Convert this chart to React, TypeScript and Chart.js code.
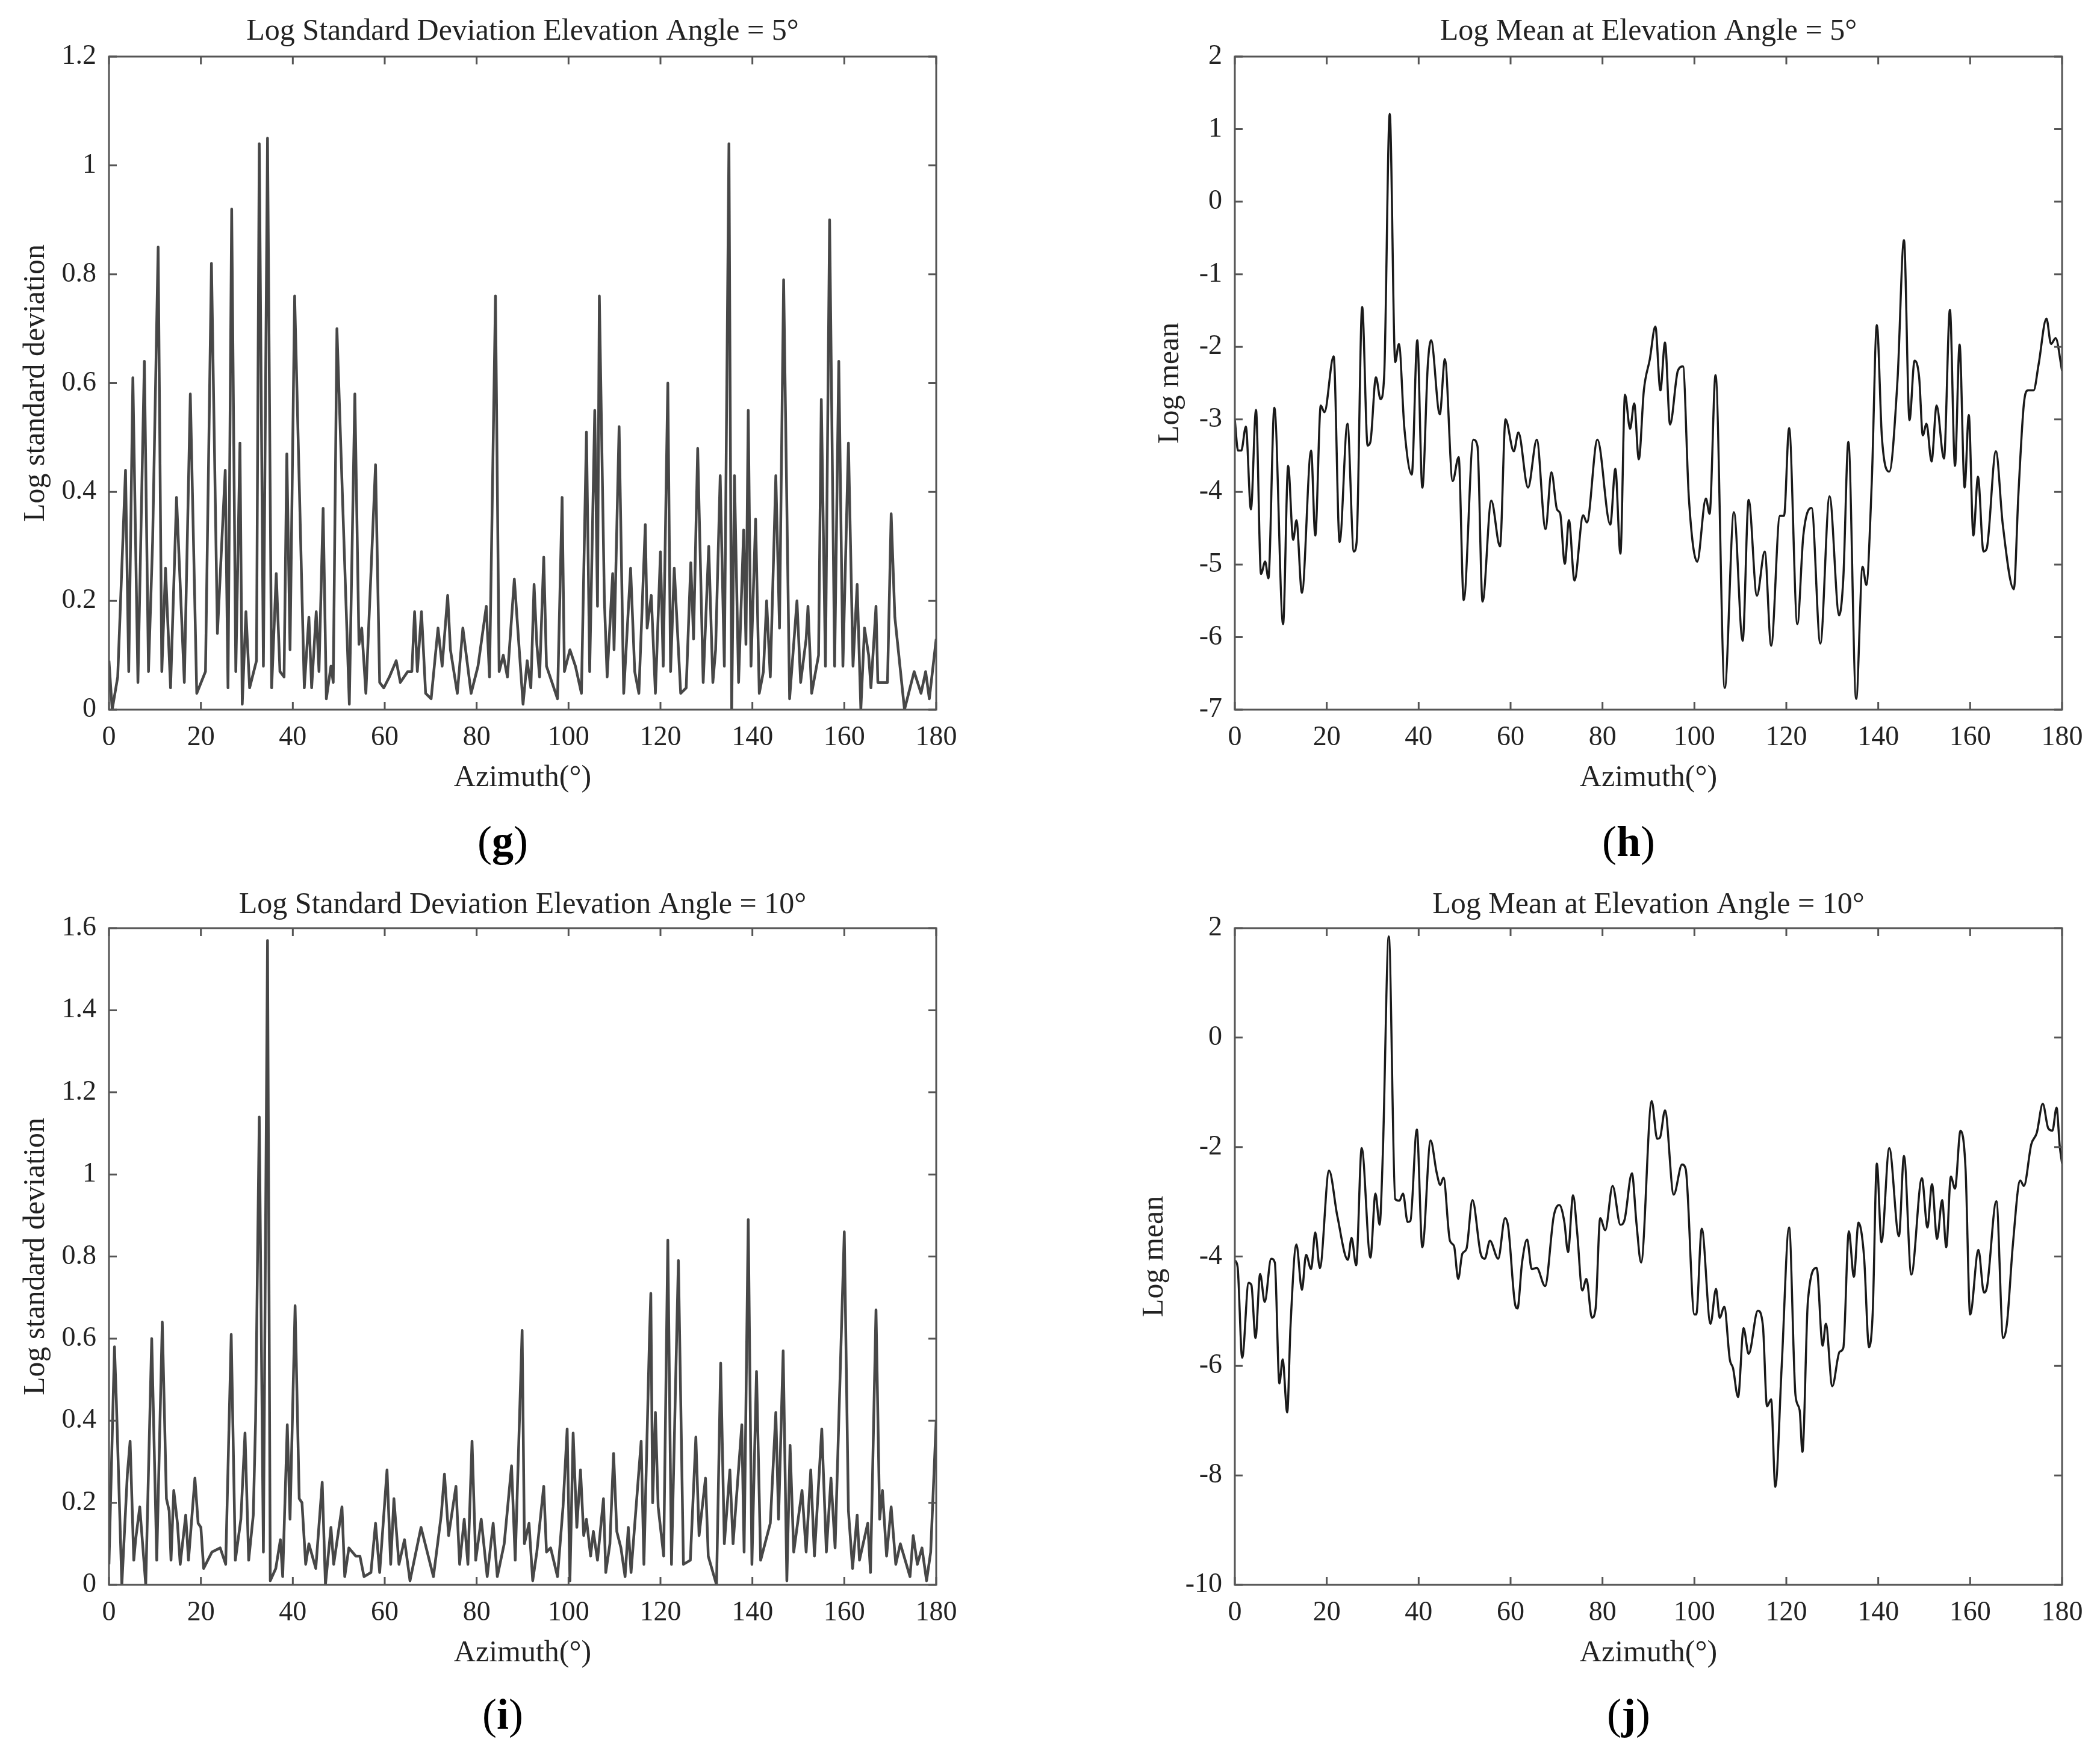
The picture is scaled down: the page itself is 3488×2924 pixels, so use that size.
import React, { useEffect, useRef } from 'react';
import { Chart, registerables } from 'chart.js';

Chart.register(...registerables);

// ---------------- DATA (azimuth °, value) ----------------
const xTicks = { min: 0, max: 180, step: 20 };

// (g) Log standard deviation, elevation 5°
const stdDev5: [number, number][] = [
  [0, 0.09], [0.7, 0.0], [1.9, 0.06], [3.6, 0.44], [4.3, 0.07], [5.2, 0.61], [6.3, 0.05], [7.7, 0.64],
  [8.6, 0.07], [9.5, 0.31], [10.7, 0.85], [11.5, 0.07], [12.3, 0.26], [13.4, 0.04], [14.7, 0.39],
  [16.4, 0.05], [17.7, 0.58], [19.1, 0.03], [21.0, 0.07], [22.3, 0.82], [23.6, 0.14], [25.3, 0.44],
  [25.9, 0.04], [26.7, 0.92], [27.6, 0.07], [28.5, 0.49], [29.0, 0.01], [29.8, 0.18], [30.6, 0.04],
  [32.1, 0.09], [32.7, 1.04], [33.6, 0.08], [34.5, 1.05], [35.4, 0.04], [36.4, 0.25], [37.2, 0.07],
  [38.1, 0.06], [38.7, 0.47], [39.4, 0.11], [40.4, 0.76], [42.5, 0.04], [43.5, 0.17], [44.1, 0.04],
  [45.1, 0.18], [45.7, 0.07], [46.6, 0.37], [47.3, 0.02], [48.3, 0.08], [48.8, 0.05], [49.6, 0.70],
  [52.3, 0.01], [53.5, 0.58], [54.4, 0.12], [55.0, 0.15], [55.9, 0.03], [58.0, 0.45], [58.9, 0.05],
  [59.8, 0.04], [61.0, 0.06], [62.5, 0.09], [63.4, 0.05], [65.0, 0.07], [65.9, 0.07], [66.5, 0.18],
  [67.1, 0.07], [68.0, 0.18], [68.9, 0.03], [70.1, 0.02], [71.6, 0.15], [72.5, 0.08], [73.7, 0.21],
  [74.3, 0.11], [75.8, 0.03], [77.0, 0.15], [78.8, 0.03], [80.3, 0.08], [82.1, 0.19], [82.8, 0.06],
  [84.1, 0.76], [84.9, 0.07], [85.8, 0.10], [86.7, 0.06], [88.2, 0.24], [90.1, 0.01], [91.0, 0.09],
  [91.8, 0.04], [92.5, 0.23], [93.1, 0.12], [93.7, 0.06], [94.6, 0.28], [95.2, 0.08], [96.4, 0.05],
  [97.6, 0.02], [98.6, 0.39], [99.1, 0.07], [100.3, 0.11], [101.5, 0.08], [102.8, 0.03], [103.9, 0.51],
  [104.6, 0.07], [105.7, 0.55], [106.3, 0.19], [106.7, 0.76], [107.8, 0.20], [108.4, 0.06], [109.6, 0.25],
  [109.9, 0.11], [111.0, 0.52], [112.0, 0.03], [113.5, 0.26], [114.4, 0.07], [115.3, 0.03], [116.7, 0.34],
  [117.1, 0.15], [118.0, 0.21], [118.9, 0.03], [120.0, 0.29], [120.6, 0.08], [121.6, 0.60], [122.2, 0.07],
  [123.0, 0.26], [124.4, 0.03], [125.6, 0.04], [126.6, 0.27], [127.2, 0.13], [128.1, 0.48], [129.3, 0.05],
  [130.5, 0.30], [131.4, 0.05], [132.0, 0.11], [133.0, 0.43], [133.9, 0.08], [134.9, 1.04], [135.5, 0.0],
  [136.1, 0.43], [137.0, 0.05], [138.1, 0.33], [138.6, 0.12], [139.1, 0.55], [139.7, 0.08], [140.7, 0.35],
  [141.5, 0.03], [142.4, 0.07], [143.1, 0.20], [143.9, 0.06], [145.1, 0.43], [145.9, 0.15], [146.8, 0.79],
  [148.1, 0.02], [149.7, 0.20], [150.5, 0.05], [151.7, 0.13], [152.1, 0.19], [152.9, 0.03], [154.4, 0.10],
  [155.0, 0.57], [155.9, 0.08], [156.8, 0.90], [157.9, 0.08], [158.8, 0.64], [159.7, 0.08], [160.9, 0.49],
  [161.9, 0.08], [162.8, 0.23], [163.6, 0.0], [164.4, 0.15], [165.3, 0.10], [165.8, 0.04], [166.9, 0.19],
  [167.3, 0.05], [169.4, 0.05], [170.2, 0.36], [171.0, 0.17], [173.1, 0.0], [174.0, 0.03], [175.2, 0.07],
  [176.7, 0.03], [177.7, 0.07], [178.5, 0.02], [180, 0.13],
];

// (h) Log mean, elevation 5°
const mean5: [number, number][] = [
  [0, -3.01], [0.7, -3.43], [1.4, -3.43], [2.4, -3.10], [3.5, -4.24], [4.6, -2.87], [5.7, -5.13],
  [6.6, -4.96], [7.3, -5.19], [8.6, -2.84], [10.5, -5.82], [11.6, -3.64], [12.7, -4.66], [13.4, -4.39],
  [14.6, -5.39], [16.6, -3.43], [17.5, -4.60], [18.7, -2.81], [19.5, -2.90], [21.5, -2.13], [22.8, -4.69],
  [24.5, -3.06], [25.9, -4.82], [26.5, -4.69], [27.7, -1.45], [28.9, -3.36], [29.5, -3.31], [30.7, -2.42],
  [31.7, -2.72], [32.5, -2.39], [33.7, 1.21], [34.9, -2.21], [35.7, -1.96], [36.9, -3.13], [38.5, -3.76],
  [39.7, -1.91], [40.8, -3.94], [42.0, -2.24], [42.7, -1.91], [44.6, -2.93], [45.7, -2.17], [47.4, -3.85],
  [48.7, -3.52], [49.8, -5.49], [51.9, -3.28], [52.8, -3.37], [53.9, -5.51], [55.8, -4.12], [57.7, -4.75],
  [58.9, -3.00], [60.7, -3.44], [61.7, -3.18], [63.8, -3.94], [65.7, -3.28], [67.6, -4.51], [68.9, -3.73],
  [70.1, -4.24], [70.8, -4.30], [71.8, -4.99], [72.7, -4.39], [73.9, -5.22], [75.8, -4.32], [76.6, -4.42],
  [78.9, -3.28], [81.7, -4.45], [82.8, -3.68], [83.9, -4.85], [84.9, -2.66], [86.0, -3.13], [86.9, -2.78],
  [87.9, -3.55], [89.0, -2.60], [90.3, -2.17], [91.5, -1.72], [92.6, -2.60], [93.6, -1.94], [94.7, -3.07],
  [96.4, -2.33], [97.5, -2.27], [98.8, -4.09], [100.6, -4.96], [102.5, -4.09], [103.3, -4.30], [104.6, -2.39],
  [106.6, -6.70], [108.6, -4.28], [110.5, -6.05], [111.8, -4.11], [113.6, -5.43], [115.3, -4.82], [116.7, -6.12],
  [118.6, -4.33], [119.5, -4.33], [120.6, -3.12], [122.4, -5.82], [123.7, -4.60], [125.5, -4.22], [127.4, -6.09],
  [129.4, -4.06], [131.5, -5.70], [132.4, -5.19], [133.5, -3.31], [135.2, -6.85], [136.6, -5.03], [137.4, -5.28],
  [138.6, -3.85], [139.7, -1.70], [140.8, -3.25], [142.4, -3.72], [144.2, -2.45], [145.6, -0.53], [146.8, -3.01],
  [147.9, -2.19], [148.9, -2.42], [149.7, -3.22], [150.5, -3.06], [151.6, -3.58], [152.7, -2.81], [154.3, -3.54],
  [155.6, -1.49], [156.7, -3.64], [157.7, -1.97], [158.8, -3.94], [159.7, -2.94], [160.7, -4.60], [161.7, -3.79],
  [162.9, -4.82], [163.6, -4.78], [165.6, -3.44], [167.1, -4.45], [169.5, -5.34], [170.5, -4.03], [171.7, -2.78],
  [172.6, -2.60], [173.8, -2.60], [174.9, -2.24], [176.6, -1.61], [177.6, -1.96], [178.6, -1.88], [180, -2.33],
];

// (i) Log standard deviation, elevation 10°
const stdDev10: [number, number][] = [
  [0, 0.05], [1.2, 0.58], [1.6, 0.45], [2.8, 0.0], [4.0, 0.27], [4.6, 0.35], [5.4, 0.06], [5.8, 0.11],
  [6.7, 0.19], [8.0, 0.0], [9.3, 0.60], [10.4, 0.06], [11.6, 0.64], [12.5, 0.21], [13.1, 0.18], [13.5, 0.06],
  [14.1, 0.23], [14.9, 0.15], [15.5, 0.05], [16.7, 0.17], [17.3, 0.06], [18.7, 0.26], [19.4, 0.15],
  [20.0, 0.14], [20.6, 0.04], [22.4, 0.08], [24.2, 0.09], [25.4, 0.05], [26.6, 0.61], [27.5, 0.06],
  [28.7, 0.16], [29.6, 0.37], [30.4, 0.06], [31.4, 0.17], [31.9, 0.40], [32.7, 1.14], [33.6, 0.08],
  [34.5, 1.57], [35.1, 0.01], [36.3, 0.04], [37.3, 0.11], [37.8, 0.02], [38.8, 0.39], [39.4, 0.16],
  [40.5, 0.68], [41.4, 0.21], [42.0, 0.20], [42.8, 0.05], [43.5, 0.10], [45.0, 0.04], [46.4, 0.25],
  [47.1, 0.0], [48.3, 0.14], [48.9, 0.05], [50.7, 0.19], [51.3, 0.02], [52.2, 0.09], [53.7, 0.07],
  [54.6, 0.07], [55.5, 0.02], [57.0, 0.03], [58.0, 0.15], [58.9, 0.03], [60.5, 0.28], [61.3, 0.05],
  [62.0, 0.21], [63.1, 0.05], [64.3, 0.11], [65.5, 0.01], [67.9, 0.14], [68.8, 0.10], [70.6, 0.02],
  [72.3, 0.17], [73.0, 0.27], [73.9, 0.12], [75.5, 0.24], [76.3, 0.05], [77.3, 0.16], [78.1, 0.05],
  [79.0, 0.35], [79.8, 0.06], [81.0, 0.16], [82.3, 0.02], [83.6, 0.15], [84.5, 0.02], [86.0, 0.10],
  [87.6, 0.29], [88.4, 0.06], [89.9, 0.62], [90.4, 0.10], [91.4, 0.15], [92.2, 0.01], [93.1, 0.08],
  [94.6, 0.24], [95.2, 0.08], [96.1, 0.09], [97.6, 0.02], [98.8, 0.19], [99.7, 0.38], [100.3, 0.01],
  [101.0, 0.37], [101.8, 0.14], [102.6, 0.28], [103.3, 0.12], [103.9, 0.16], [104.8, 0.07], [105.4, 0.13],
  [106.3, 0.06], [107.6, 0.21], [108.1, 0.03], [109.0, 0.10], [109.8, 0.32], [110.5, 0.13], [111.4, 0.09],
  [112.3, 0.02], [113.0, 0.14], [113.6, 0.03], [115.8, 0.35], [116.4, 0.05], [117.6, 0.60], [117.9, 0.71],
  [118.3, 0.20], [118.9, 0.42], [119.5, 0.19], [120.7, 0.07], [121.6, 0.84], [122.4, 0.05], [123.9, 0.79],
  [125.0, 0.05], [126.5, 0.06], [127.7, 0.36], [128.4, 0.12], [129.8, 0.26], [130.4, 0.07], [132.2, 0.0],
  [133.1, 0.54], [133.9, 0.10], [135.1, 0.28], [135.8, 0.10], [137.7, 0.39], [138.2, 0.08], [139.1, 0.89],
  [139.9, 0.05], [140.9, 0.52], [141.8, 0.06], [143.9, 0.15], [145.1, 0.42], [145.7, 0.16], [146.7, 0.57],
  [147.5, 0.01], [148.2, 0.34], [149.0, 0.08], [150.8, 0.23], [151.7, 0.08], [152.7, 0.28], [153.5, 0.07],
  [155.1, 0.38], [156.1, 0.08], [157.1, 0.26], [158.0, 0.09], [160.0, 0.86], [160.9, 0.18], [161.8, 0.04],
  [162.8, 0.17], [163.3, 0.06], [165.1, 0.15], [165.7, 0.03], [166.9, 0.67], [167.7, 0.16], [168.3, 0.23],
  [169.2, 0.07], [170.2, 0.19], [171.2, 0.05], [172.2, 0.10], [174.3, 0.02], [175.0, 0.12], [175.9, 0.05],
  [176.9, 0.09], [177.9, 0.01], [178.8, 0.08], [180, 0.40],
];

// (j) Log mean, elevation 10°
const mean10: [number, number][] = [
  [0, -4.07], [0.6, -4.19], [1.6, -5.85], [3.0, -4.48], [3.6, -4.52], [4.5, -5.49], [5.5, -4.32],
  [6.5, -4.83], [7.9, -4.04], [8.7, -4.11], [9.7, -6.32], [10.4, -5.88], [11.4, -6.85], [12.1, -5.30],
  [13.4, -3.78], [14.6, -4.61], [15.5, -3.97], [16.6, -4.23], [17.5, -3.56], [18.5, -4.21], [20.5, -2.43],
  [22.3, -3.26], [24.6, -4.06], [25.4, -3.66], [26.4, -4.16], [27.6, -2.02], [29.5, -4.02], [30.6, -2.85],
  [31.5, -3.42], [32.2, -2.12], [33.5, 1.85], [34.9, -2.95], [35.8, -2.98], [36.6, -2.85], [37.6, -3.37],
  [38.2, -3.35], [39.6, -1.68], [40.8, -3.83], [42.6, -1.88], [43.9, -2.46], [44.7, -2.69], [45.4, -2.56],
  [46.8, -3.71], [47.7, -3.81], [48.6, -4.41], [49.5, -3.95], [50.4, -3.86], [51.7, -2.97], [53.5, -3.95],
  [54.4, -4.04], [55.5, -3.71], [57.3, -4.04], [58.8, -3.30], [59.5, -3.47], [60.9, -4.83], [61.5, -4.95],
  [62.5, -4.11], [63.6, -3.69], [64.6, -4.23], [65.7, -4.21], [67.5, -4.54], [69.4, -3.26], [70.6, -3.06],
  [71.7, -3.37], [72.5, -3.92], [73.6, -2.88], [74.5, -3.57], [75.6, -4.62], [76.5, -4.41], [77.7, -5.12],
  [78.5, -4.95], [79.5, -3.30], [80.6, -3.52], [82.2, -2.71], [83.9, -3.42], [84.8, -3.33], [86.4, -2.48],
  [87.4, -3.40], [88.4, -4.11], [90.7, -1.16], [91.9, -1.85], [92.5, -1.83], [93.6, -1.33], [95.5, -2.87],
  [97.3, -2.32], [98.1, -2.40], [100.0, -5.06], [100.4, -5.06], [101.6, -3.49], [103.5, -5.23], [104.7, -4.59],
  [105.5, -5.12], [106.5, -4.92], [107.7, -5.88], [108.4, -6.04], [109.5, -6.57], [110.7, -5.31], [111.8, -5.78],
  [113.8, -4.99], [114.9, -5.26], [115.8, -6.74], [116.7, -6.61], [117.6, -8.21], [119.0, -5.99], [120.6, -3.47],
  [122.0, -6.54], [122.9, -6.81], [123.5, -7.57], [124.7, -4.81], [126.6, -4.21], [127.9, -5.63], [128.6, -5.23],
  [130.0, -6.37], [131.6, -5.74], [132.4, -5.67], [133.6, -3.54], [134.7, -4.37], [135.7, -3.38], [136.9, -3.99],
  [138.0, -5.66], [138.8, -5.02], [139.7, -2.30], [140.7, -3.74], [142.4, -2.02], [144.5, -3.63], [145.6, -2.16],
  [147.2, -4.33], [149.5, -2.57], [150.7, -3.47], [151.7, -2.68], [152.8, -3.68], [153.9, -2.97], [154.8, -3.83],
  [155.8, -2.54], [156.7, -2.76], [157.9, -1.70], [159.0, -2.40], [160.0, -5.06], [161.8, -3.88], [163.0, -4.66],
  [163.7, -4.54], [165.7, -2.99], [167.2, -5.49], [168.0, -5.23], [169.3, -3.78], [170.9, -2.61], [171.7, -2.71],
  [173.3, -1.95], [174.5, -1.74], [175.8, -1.21], [177.0, -1.66], [177.9, -1.70], [178.8, -1.28], [179.5, -1.99],
  [180, -2.30],
];

// y-axis ranges
const yStd5 = { min: 0, max: 1.2, step: 0.2 };
const yMean5 = { min: -7, max: 2, step: 1 };
const yStd10 = { min: 0, max: 1.6, step: 0.2 };
const yMean10 = { min: -10, max: 2, step: 2 };

// ---------------- STYLE / LAYOUT ----------------
const FONT = "'Liberation Serif', 'Times New Roman', Times, serif";
const TEXT = '#222';
const AXIS = '#555';
const PAD_RIGHT = 60;
const X_AXIS_H = 154;
const TITLE_PT = 10;

type Spec = {
  tag: string;
  title: string;
  yTitle: string;
  points: [number, number][];
  y: { min: number; max: number; step: number };
  smooth: boolean;
  color: string;
  lw: number;
  L: number; R: number; T: number; B: number;
  yw: number; titlePb: number; tagX: number; tagY: number;
};

const PANELS: Spec[] = [
  { tag: 'g', title: 'Log Standard Deviation Elevation Angle = 5°', yTitle: 'Log standard deviation',
    points: stdDev5, y: yStd5, smooth: false, color: '#474747', lw: 4.5,
    L: 181, R: 1555, T: 94, B: 1179, yw: 156, titlePb: 11, tagX: 835, tagY: 1398 },
  { tag: 'h', title: 'Log Mean at Elevation Angle = 5°', yTitle: 'Log mean',
    points: mean5, y: yMean5, smooth: true, color: '#1a1a1a', lw: 3.5,
    L: 2051, R: 3425, T: 94, B: 1179, yw: 142, titlePb: 11, tagX: 2705, tagY: 1398 },
  { tag: 'i', title: 'Log Standard Deviation Elevation Angle = 10°', yTitle: 'Log standard deviation',
    points: stdDev10, y: yStd10, smooth: false, color: '#474747', lw: 4.5,
    L: 181, R: 1555, T: 1542, B: 2633, yw: 156, titlePb: 8, tagX: 835, tagY: 2848 },
  { tag: 'j', title: 'Log Mean at Elevation Angle = 10°', yTitle: 'Log mean',
    points: mean10, y: yMean10, smooth: true, color: '#1a1a1a', lw: 3.5,
    L: 2051, R: 3425, T: 1542, B: 2633, yw: 168, titlePb: 8, tagX: 2705, tagY: 2848 },
];

const framePlugin = {
  id: 'matlabFrame',
  afterDatasetsDraw(chart: any) {
    const { ctx, chartArea: a, scales } = chart;
    const tl = 13;
    ctx.save();
    ctx.strokeStyle = AXIS;
    ctx.lineWidth = 3;
    ctx.beginPath();
    for (const t of scales.x.ticks) {
      const px = scales.x.getPixelForValue(t.value);
      ctx.moveTo(px, a.bottom); ctx.lineTo(px, a.bottom - tl);
      ctx.moveTo(px, a.top); ctx.lineTo(px, a.top + tl);
    }
    for (const t of scales.y.ticks) {
      const py = scales.y.getPixelForValue(t.value);
      ctx.moveTo(a.left, py); ctx.lineTo(a.left + tl, py);
      ctx.moveTo(a.right, py); ctx.lineTo(a.right - tl, py);
    }
    ctx.stroke();
    ctx.strokeRect(a.left, a.top, a.right - a.left, a.bottom - a.top);
    ctx.restore();
  },
};

function Panel({ s }: { s: Spec }) {
  const ref = useRef<HTMLCanvasElement>(null);
  const titleH = TITLE_PT + 60 + s.titlePb;
  const left = s.L - s.yw;
  const top = s.T - titleH;
  const width = s.yw + (s.R - s.L) + PAD_RIGHT;
  const height = titleH + (s.B - s.T) + X_AXIS_H;

  useEffect(() => {
    const fmt = (v: any) => String(Math.round(Number(v) * 10) / 10);
    const chart = new Chart(ref.current as HTMLCanvasElement, {
      type: 'line',
      data: {
        datasets: [
          {
            data: s.points.map(([x, y]) => ({ x, y })),
            borderColor: s.color,
            borderWidth: s.lw,
            pointRadius: 0,
            fill: false,
            tension: 0,
            cubicInterpolationMode: s.smooth ? 'monotone' : 'default',
            borderJoinStyle: 'round',
          } as any,
        ],
      },
      options: {
        animation: false,
        responsive: false,
        devicePixelRatio: 1,
        layout: { padding: { left: 0, right: PAD_RIGHT, top: 0, bottom: 0 } },
        plugins: {
          legend: { display: false },
          tooltip: { enabled: false },
          title: {
            display: true,
            text: s.title,
            fullSize: false,
            color: TEXT,
            font: { family: FONT, size: 50, weight: 'normal', lineHeight: 1.2 },
            padding: { top: TITLE_PT, bottom: s.titlePb },
          },
        },
        scales: {
          x: {
            type: 'linear',
            min: xTicks.min,
            max: xTicks.max,
            ticks: {
              stepSize: xTicks.step,
              autoSkip: false,
              maxRotation: 0,
              color: TEXT,
              padding: 19,
              font: { family: FONT, size: 46, lineHeight: 1.2 },
              callback: fmt,
            },
            grid: { display: false, drawTicks: false },
            border: { display: false },
            title: {
              display: true,
              text: 'Azimuth(°)',
              color: TEXT,
              font: { family: FONT, size: 50, lineHeight: 1.2 },
              padding: { top: 0, bottom: 10 },
            },
            afterFit: (sc: any) => { sc.height = X_AXIS_H; },
          },
          y: {
            type: 'linear',
            min: s.y.min,
            max: s.y.max,
            ticks: {
              stepSize: s.y.step,
              autoSkip: false,
              color: TEXT,
              padding: 21,
              font: { family: FONT, size: 46, lineHeight: 1.2 },
              callback: fmt,
            },
            grid: { display: false, drawTicks: false },
            border: { display: false },
            title: {
              display: true,
              text: s.yTitle,
              color: TEXT,
              font: { family: FONT, size: 50, lineHeight: 1.2 },
              padding: { top: 5, bottom: 0 },
            },
            afterFit: (sc: any) => { sc.width = s.yw; },
          },
        },
      } as any,
      plugins: [framePlugin],
    });
    return () => chart.destroy();
  }, []);

  return (
    <>
      <canvas
        ref={ref}
        width={width}
        height={height}
        style={{ position: 'absolute', left, top, width, height }}
      />
      <div
        style={{
          position: 'absolute',
          left: s.tagX - 150,
          top: s.tagY - 40,
          width: 300,
          height: 80,
          lineHeight: '80px',
          textAlign: 'center',
          fontFamily: FONT,
          fontSize: 72,
          color: '#000',
        }}
      >
        (<b>{s.tag}</b>)
      </div>
    </>
  );
}

export default function App() {
  return (
    <div
      style={{
        position: 'absolute',
        left: 0,
        top: 0,
        width: 3488,
        height: 2924,
        background: '#fff',
        overflow: 'hidden',
      }}
    >
      {PANELS.map((s) => (
        <Panel key={s.tag} s={s} />
      ))}
    </div>
  );
}
